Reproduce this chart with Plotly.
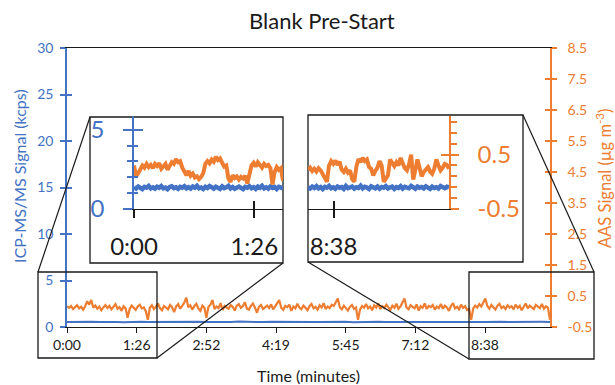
import numpy as np
import plotly.graph_objects as go

BLUE = "#4472C4"
ORANGE = "#ED7D31"
INK = "#1a1a1a"
FONT = "Lato"
W, H = 615, 385

# ---- time axis (seconds) ----
time_ticks = [0, 86.4, 172.8, 259.2, 345.6, 432.0, 518.4]
time_labels = ["0:00", "1:26", "2:52", "4:19", "5:45", "7:12", "8:38"]
run_end = 599

# ---- AAS axis ticks ----
aas_ticks = [-0.5, 0.5, 1.5, 2.5, 3.5, 4.5, 5.5, 6.5, 7.5, 8.5]
aas_labels = ["-0.5", "0.5", "1.5", "2.5", "3.5", "4.5", "5.5", "6.5", "7.5", "8.5"]

# ---- full run: AAS signal (ug m-3) ----
aas_run = [
    0.16, 0.12, 0.18, 0.08, 0.14, 0.20, 0.10, 0.15, 0.06, 0.17, 0.33, 0.22, 0.37, 0.12, 0.19, 0.09, 0.16, 0.04, 0.13, 0.21,
    0.11, 0.18, 0.07, 0.15, 0.24, 0.09, 0.14, 0.02, 0.17, 0.10, -0.20, 0.08, 0.19, 0.12, 0.05, 0.16, 0.22, 0.10, 0.13, 0.01,
    -0.27, 0.12, 0.20, 0.08, 0.15, 0.26, 0.11, 0.04, 0.18, 0.13, 0.07, 0.21, 0.14, -0.02, 0.16, 0.24, 0.09, 0.18, 0.28, 0.45,
    0.14, 0.20, 0.06, 0.17, 0.25, 0.10, 0.02, 0.19, 0.12, -0.20, 0.15, 0.22, 0.37, 0.08, 0.16, 0.11, 0.27, 0.05, 0.18, 0.13,
    0.09, 0.21, 0.15, 0.03, 0.19, 0.24, 0.12, 0.17, 0.30, 0.10, 0.06, 0.18, 0.26, 0.13, -0.04, 0.15, 0.21, 0.08, 0.14, 0.19,
    0.11, 0.23, 0.07, 0.16, 0.28, 0.37, 0.12, 0.05, 0.18, 0.14, 0.22, 0.02, 0.16, 0.10, 0.25, 0.13, 0.07, 0.19, 0.12, 0.04,
    0.17, 0.24, 0.10, 0.15, 0.06, 0.20, 0.13, 0.27, 0.08, 0.16, 0.11, 0.22, 0.18, 0.30, 0.42, 0.14, 0.07, 0.19, 0.12, 0.03,
    0.15, 0.21, 0.09, 0.13, -0.27, 0.06, 0.18, 0.12, 0.24, 0.10, 0.16, 0.04, 0.20, 0.13, 0.26, 0.08, 0.17, 0.11, 0.22, 0.14,
    0.05, 0.19, 0.12, 0.25, 0.09, 0.16, 0.30, 0.42, 0.13, 0.07, 0.20, 0.15, 0.10, 0.23, 0.03, 0.17, 0.12, 0.26, 0.08, 0.18,
    0.14, 0.21, 0.06, 0.16, 0.11, 0.24, 0.09, 0.19, 0.13, 0.02, 0.18, 0.27, 0.10, 0.15, 0.07, 0.22, 0.12, 0.17, 0.05, 0.08,
    -0.27, 0.10, 0.19, 0.13, 0.24, 0.16, 0.30, 0.42, 0.18, 0.09, 0.21, 0.14, 0.06, 0.19, 0.25, 0.11, 0.16, 0.08, 0.20, 0.13,
    0.17, 0.07, 0.22, 0.12, 0.18, 0.04, 0.15, 0.26, 0.10, 0.19, 0.13, 0.08, 0.21, 0.16, 0.11, 0.24, 0.09, 0.17, 0.12, -0.27,
]

# ---- full run: ICP-MS/MS signal (kcps) ----
icp_run = [
    0.55, 0.57, 0.53, 0.56, 0.54, 0.58, 0.55, 0.52, 0.56, 0.57, 0.54, 0.55, 0.58, 0.53, 0.56,
    0.55, 0.57, 0.54, 0.52, 0.56, 0.55, 0.58, 0.54, 0.56, 0.53, 0.57, 0.55, 0.54, 0.58, 0.56,
    0.53, 0.55, 0.57, 0.54, 0.56, 0.52, 0.55, 0.58, 0.56, 0.54, 0.57, 0.55, 0.53, 0.56, 0.58,
    0.54, 0.55, 0.57, 0.53, 0.56, 0.55, 0.54, 0.58, 0.56, 0.53, 0.55, 0.57, 0.54, 0.56, 0.55,
]

# ---- start window (0:00 - 1:47) ----
start_window = [0, 107]
aas_start = [
    0.30, 0.10, 0.16, 0.22, 0.30, 0.26, 0.33, 0.27, 0.31, 0.25, 0.33, 0.29, 0.34, 0.24, 0.30, 0.33, 0.22, 0.30,
    0.36, 0.33, 0.42, 0.36, 0.38, 0.26, 0.18, 0.12, 0.20, 0.11, 0.15, 0.08, 0.10, 0.05, 0.09, 0.16, 0.33, 0.38,
    0.34, 0.41, 0.37, 0.46, 0.40, 0.43, 0.35, 0.28, 0.30, 0.06, 0.00, 0.12, 0.07, 0.10, 0.04, 0.09, 0.06, 0.11,
    -0.03, 0.14, 0.30, 0.35, 0.28, 0.36, 0.31, 0.26, 0.33, 0.29, 0.31, 0.25, -0.05, 0.18, 0.27, 0.22, 0.25, 0.02,
]
icp_start = [
    1.38, 1.29, 1.42, 1.33, 1.26, 1.40, 1.35, 1.46, 1.30, 1.37, 1.28, 1.41, 1.34, 1.45, 1.31, 1.36, 1.25, 1.39,
    1.43, 1.32, 1.37, 1.27, 1.40, 1.35, 1.44, 1.30, 1.38, 1.29, 1.42, 1.34, 1.47, 1.31, 1.36, 1.26, 1.40, 1.33,
    1.45, 1.38, 1.29, 1.41, 1.35, 1.27, 1.43, 1.32, 1.37, 1.46, 1.30, 1.39, 1.28, 1.36, 1.42, 1.33, 1.25, 1.40,
    1.35, 1.44, 1.31, 1.38, 1.27, 1.41, 1.34, 1.46, 1.30, 1.37, 1.29, 1.42, 1.33, 1.39, 1.26, 1.40, 1.35, 1.31,
]

# ---- end window (8:20 - 10:01) ----
end_window = [500, 601.5]
aas_end = [
    0.22, 0.26, 0.20, 0.24, 0.19, 0.25, 0.21, 0.15, 0.08, 0.00, 0.30, 0.38, 0.33, 0.39, 0.31, 0.37, 0.22,
    0.18, 0.24, 0.17, 0.21, 0.05, 0.00, 0.28, 0.42, 0.36, 0.44, 0.38, 0.41, 0.27, 0.24, 0.12, 0.20, 0.26,
    0.38, 0.30, 0.00, 0.08, 0.12, 0.41, 0.33, 0.29, 0.36, 0.30, 0.44, 0.34, 0.25, 0.21, 0.32, 0.50, 0.04,
    0.22, 0.41, 0.26, 0.10, 0.18, 0.22, 0.27, 0.19, 0.15, 0.24, 0.41, 0.30, 0.21, 0.26, 0.33, 0.31, 0.24,
]
icp_end = [
    1.36, 1.29, 1.41, 1.33, 1.44, 1.30, 1.38, 1.26, 1.40, 1.35, 1.46, 1.31, 1.37, 1.28, 1.42, 1.34, 1.39,
    1.27, 1.45, 1.32, 1.36, 1.41, 1.29, 1.38, 1.33, 1.47, 1.30, 1.40, 1.35, 1.26, 1.43, 1.37, 1.31, 1.42,
    1.28, 1.39, 1.34, 1.45, 1.30, 1.36, 1.41, 1.27, 1.38, 1.33, 1.44, 1.29, 1.40, 1.35, 1.31, 1.46, 1.37,
    1.28, 1.42, 1.34, 1.39, 1.30, 1.43, 1.36, 1.27, 1.41, 1.33, 1.38, 1.29, 1.45, 1.35, 1.31, 1.40, 1.36,
]

inset_icp_range = [0, 5.87]
inset_icp_major = [0, 5]
inset_icp_minor = [1, 2, 3, 4]
inset_aas_range = [-0.5, 1.21]
inset_aas_major = [-0.5, 0.5]
inset_aas_minor = [-0.3, -0.1, 0.1, 0.3, 0.7, 0.9, 1.1]


def px(x):
    return x / W


def py(y):
    return 1 - y / H


main_x = [px(67), px(550)]
main_y = [py(327), py(48)]
ins1_x = [px(134), px(283)]
ins2_x = [px(308), px(449)]
ins_y = [py(209), py(116)]

TW = 1.5  # tick / axis line width

fig = go.Figure()


def line_trace(t, v, xa, ya, color, width):
    return go.Scatter(x=t, y=v, xaxis=xa, yaxis=ya, mode="lines",
                      line=dict(color=color, width=width), hoverinfo="skip",
                      showlegend=False)


def empty_trace(xa, ya):
    return go.Scatter(x=[None], y=[None], xaxis=xa, yaxis=ya, mode="lines",
                      hoverinfo="skip", showlegend=False)


# main panel
fig.add_trace(line_trace(np.linspace(0, run_end, len(icp_run)), icp_run, "x", "y", BLUE, 2))
fig.add_trace(line_trace(np.linspace(0, run_end, len(aas_run)), aas_run, "x", "y2", ORANGE, 2.2))

# start-window zoom
fig.add_trace(line_trace(np.linspace(*start_window, len(icp_start)), icp_start, "x2", "y5", BLUE, 4.5))
fig.add_trace(line_trace(np.linspace(*start_window, len(aas_start)), aas_start, "x2", "y6", ORANGE, 4))

# end-window zoom
fig.add_trace(line_trace(np.linspace(*end_window, len(icp_end)), icp_end, "x3", "y8", BLUE, 4.5))
fig.add_trace(line_trace(np.linspace(*end_window, len(aas_end)), aas_end, "x3", "y9", ORANGE, 4))

# tick-only companion axes (give crossing / minor tick marks)
for xa, ya in [("x", "y3"), ("x", "y4"), ("x2", "y7"), ("x4", "y5"), ("x2", "y11"),
               ("x2", "y12"), ("x3", "y10"), ("x5", "y8"), ("x3", "y13")]:
    fig.add_trace(empty_trace(xa, ya))

base = dict(showgrid=False, zeroline=False, fixedrange=True, automargin=False)


def ghost(over, anchor, side, rng, vals, length, color, where="inside"):
    d = dict(showgrid=False, zeroline=False, showline=False, showticklabels=False,
             automargin=False, fixedrange=True, overlaying=over, anchor=anchor,
             range=rng, tickmode="array", tickvals=vals, ticks=where,
             ticklen=length, tickcolor=color, tickwidth=TW)
    if side is not None:
        d["side"] = side
    return d


layout_axes = dict(
    xaxis=dict(base, domain=main_x, anchor="y", range=[0, run_end],
               tickmode="array", tickvals=time_ticks, ticktext=time_labels,
               ticks="outside", ticklen=5, tickcolor=INK, tickwidth=1.3,
               showline=True, linecolor=INK, linewidth=1.3, mirror=True,
               tickfont=dict(size=14, color=INK, family=FONT)),
    yaxis=dict(base, domain=main_y, anchor="x", range=[0, 30], tick0=0, dtick=5,
               ticks="outside", ticklen=5, tickcolor=BLUE, tickwidth=TW,
               showline=True, linecolor=BLUE, linewidth=TW, ticklabelstandoff=4,
               tickfont=dict(size=14, color=BLUE, family=FONT)),
    yaxis2=dict(base, overlaying="y", anchor="x", side="right", range=[-0.5, 8.5],
                tickmode="array", tickvals=aas_ticks, ticktext=aas_labels,
                ticks="outside", ticklen=5, tickcolor=ORANGE, tickwidth=TW,
                showline=True, linecolor=ORANGE, linewidth=TW, ticklabelstandoff=8,
                tickfont=dict(size=14, color=ORANGE, family=FONT)),
    yaxis3=ghost("y", "x", "left", [0, 30], [0, 5, 10, 15, 20, 25, 30], 5, BLUE),
    yaxis4=ghost("y", "x", "right", [-0.5, 8.5], aas_ticks, 5, ORANGE),

    xaxis2=dict(base, domain=ins1_x, anchor="y5", range=start_window,
                tickmode="array", tickvals=time_ticks[:2], ticktext=time_labels[:2],
                ticks="outside", ticklen=8, tickcolor=INK, tickwidth=TW,
                showline=True, linecolor=INK, linewidth=1.3, ticklabelstandoff=8,
                tickfont=dict(size=24, color=INK, family=FONT)),
    xaxis4=ghost("x2", "y5", None, start_window, time_ticks[:2], 8, INK),
    yaxis5=dict(base, domain=ins_y, anchor="x2", range=inset_icp_range,
                tickmode="array", tickvals=inset_icp_major, ticktext=["0", "5"],
                ticks="outside", ticklen=9, tickcolor=BLUE, tickwidth=TW,
                showline=True, linecolor=BLUE, linewidth=TW, ticklabelstandoff=14,
                tickfont=dict(size=24, color=BLUE, family=FONT)),
    yaxis6=dict(base, overlaying="y5", anchor="x2", range=inset_aas_range, visible=False),
    yaxis7=ghost("y5", "x2", "left", inset_icp_range, inset_icp_major, 9, BLUE),
    yaxis11=ghost("y5", "x2", "left", inset_icp_range, inset_icp_minor, 6, BLUE, "outside"),
    yaxis12=ghost("y5", "x2", "left", inset_icp_range, inset_icp_minor, 4, BLUE),

    xaxis3=dict(base, domain=ins2_x, anchor="y8", range=end_window,
                tickmode="array", tickvals=time_ticks[-1:], ticktext=time_labels[-1:],
                ticks="outside", ticklen=8, tickcolor=INK, tickwidth=TW,
                showline=True, linecolor=INK, linewidth=1.3, ticklabelstandoff=8,
                tickfont=dict(size=24, color=INK, family=FONT)),
    xaxis5=ghost("x3", "y8", None, end_window, time_ticks[-1:], 8, INK),
    yaxis8=dict(base, domain=ins_y, anchor="x3", range=inset_icp_range, visible=False),
    yaxis9=dict(base, overlaying="y8", anchor="x3", side="right", range=inset_aas_range,
                tickmode="array", tickvals=inset_aas_major, ticktext=["-0.5", "0.5"],
                ticks="outside", ticklen=8, tickcolor=ORANGE, tickwidth=TW,
                showline=True, linecolor=ORANGE, linewidth=TW, ticklabelstandoff=14,
                tickfont=dict(size=24, color=ORANGE, family=FONT)),
    yaxis10=ghost("y8", "x3", "right", inset_aas_range, inset_aas_major[1:], 8, ORANGE),
    yaxis13=ghost("y8", "x3", "right", inset_aas_range, inset_aas_minor, 7, ORANGE, "outside"),
)


def box(x0, y0, x1, y1, layer):
    return dict(type="rect", xref="paper", yref="paper", x0=px(x0), x1=px(x1),
                y0=py(y1), y1=py(y0), line=dict(color=INK, width=1.3),
                fillcolor="rgba(0,0,0,0)", layer=layer)


def link(x0, y0, x1, y1):
    return dict(type="line", xref="paper", yref="paper", x0=px(x0), y0=py(y0),
                x1=px(x1), y1=py(y1), line=dict(color=INK, width=1.2), layer="above")


shapes = [
    box(90, 117, 283, 263, "below"),
    box(308, 115, 523, 262, "below"),
    box(38, 272, 157, 358, "above"),
    box(469, 272, 594, 359, "above"),
    link(90, 117, 38, 272),
    link(283, 263, 157, 358),
    link(523, 115, 594, 272),
    link(308, 262, 469, 359),
]

annotations = [
    dict(text="Blank Pre-Start", x=px(322), y=py(20), xref="paper", yref="paper",
         showarrow=False, xanchor="center", yanchor="middle",
         font=dict(size=22, color=INK, family=FONT)),
    dict(text="Time (minutes)", x=px(308), y=py(375), xref="paper", yref="paper",
         showarrow=False, xanchor="center", yanchor="middle",
         font=dict(size=16, color=INK, family=FONT)),
    dict(text="ICP-MS/MS Signal (kcps)", x=px(20), y=py(176), xref="paper", yref="paper",
         showarrow=False, xanchor="center", yanchor="middle", textangle=-90,
         font=dict(size=16, color=BLUE, family=FONT)),
    dict(text="AAS Signal (µg m<sup>-3</sup>)", x=px(604), y=py(179), xref="paper", yref="paper",
         showarrow=False, xanchor="center", yanchor="middle", textangle=-90,
         font=dict(size=16.5, color=ORANGE, family=FONT)),
]

fig.update_layout(
    width=W, height=H, margin=dict(l=0, r=0, t=0, b=0, pad=0),
    paper_bgcolor="white", plot_bgcolor="rgba(0,0,0,0)",
    showlegend=False, hovermode=False,
    font=dict(family=FONT, color=INK),
    shapes=shapes, annotations=annotations,
    **layout_axes,
)

fig.write_html("out.html", config={"displayModeBar": False})
